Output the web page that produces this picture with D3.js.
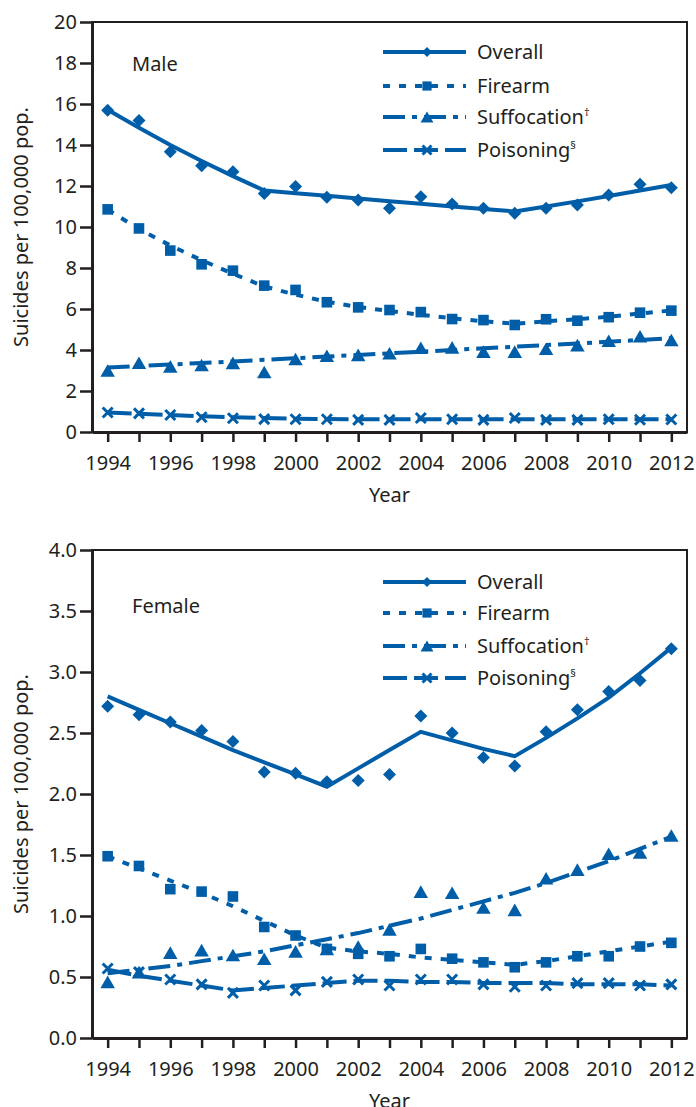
<!DOCTYPE html>
<html>
<head>
<meta charset="utf-8">
<script src="https://cdn.jsdelivr.net/npm/d3@7"></script>
<style>
  body { margin: 0; background: #fff; }
  text { font-family: "Noto Sans", sans-serif; fill: #231f20; }
</style>
</head>
<body>
<div id="app"></div>
<script>
// years on the x axis
const years = [1994, 1995, 1996, 1997, 1998, 1999, 2000, 2001, 2002, 2003,
               2004, 2005, 2006, 2007, 2008, 2009, 2010, 2011, 2012];
const seriesNames = ["Overall", "Firearm", "Suffocation", "Poisoning"];
const seriesSup = ["", "", "\u2020", "\u00a7"];

// male, observed rates
const maleOverall     = [15.7, 15.19, 13.67, 12.99, 12.7, 11.64, 11.97, 11.45, 11.32, 10.91, 11.48, 11.12, 10.91, 10.67, 10.91, 11.07, 11.56, 12.08, 11.92];
const maleFirearm     = [10.86, 9.93, 8.85, 8.18, 7.87, 7.14, 6.93, 6.33, 6.08, 5.95, 5.85, 5.51, 5.46, 5.22, 5.5, 5.43, 5.6, 5.82, 5.92];
const maleSuffocation = [3.0, 3.38, 3.2, 3.27, 3.37, 2.93, 3.56, 3.72, 3.76, 3.84, 4.11, 4.13, 3.92, 3.92, 4.06, 4.24, 4.45, 4.67, 4.49];
const malePoisoning   = [0.95, 0.91, 0.83, 0.72, 0.67, 0.63, 0.62, 0.62, 0.59, 0.59, 0.68, 0.62, 0.59, 0.68, 0.59, 0.59, 0.62, 0.6, 0.61];
// male, fitted trends
const maleOverallTrend     = [15.72, 14.84, 14.0, 13.22, 12.48, 11.78, 11.65, 11.52, 11.39, 11.26, 11.13, 11.0, 10.88, 10.76, 11.0, 11.25, 11.51, 11.78, 12.05];
const maleFirearmTrend     = [10.85, 9.9, 9.1, 8.38, 7.72, 7.1, 6.7, 6.35, 6.1, 5.9, 5.72, 5.55, 5.4, 5.28, 5.4, 5.5, 5.62, 5.78, 5.93];
const maleSuffocationTrend = [3.15, 3.22, 3.29, 3.37, 3.44, 3.52, 3.6, 3.68, 3.76, 3.84, 3.92, 4.0, 4.08, 4.16, 4.24, 4.32, 4.4, 4.49, 4.58];
const malePoisoningTrend   = [0.95, 0.89, 0.83, 0.77, 0.72, 0.68, 0.65, 0.63, 0.62, 0.62, 0.62, 0.62, 0.62, 0.62, 0.62, 0.62, 0.62, 0.62, 0.62];

// female, observed rates
const femaleOverall     = [2.72, 2.65, 2.59, 2.52, 2.43, 2.18, 2.17, 2.1, 2.11, 2.16, 2.64, 2.5, 2.3, 2.23, 2.51, 2.69, 2.84, 2.93, 3.19];
const femaleFirearm     = [1.49, 1.41, 1.22, 1.2, 1.16, 0.91, 0.84, 0.73, 0.69, 0.67, 0.73, 0.65, 0.62, 0.58, 0.62, 0.67, 0.67, 0.75, 0.78];
const femaleSuffocation = [0.46, 0.54, 0.7, 0.72, 0.68, 0.65, 0.71, 0.73, 0.75, 0.89, 1.2, 1.19, 1.07, 1.05, 1.31, 1.38, 1.51, 1.52, 1.66];
const femalePoisoning   = [0.57, 0.54, 0.48, 0.44, 0.37, 0.43, 0.39, 0.46, 0.48, 0.43, 0.48, 0.48, 0.44, 0.42, 0.43, 0.45, 0.45, 0.43, 0.44];
// female, fitted trends
const femaleOverallTrend     = [2.8, 2.69, 2.58, 2.47, 2.36, 2.26, 2.16, 2.06, 2.21, 2.36, 2.51, 2.44, 2.37, 2.31, 2.46, 2.62, 2.79, 2.99, 3.2];
const femaleFirearmTrend     = [1.49, 1.39, 1.29, 1.19, 1.08, 0.96, 0.84, 0.74, 0.71, 0.69, 0.66, 0.64, 0.62, 0.6, 0.63, 0.67, 0.71, 0.75, 0.79];
const femaleSuffocationTrend = [0.53, 0.56, 0.59, 0.63, 0.67, 0.71, 0.76, 0.81, 0.86, 0.92, 0.98, 1.05, 1.12, 1.19, 1.27, 1.36, 1.45, 1.55, 1.65];
const femalePoisoningTrend   = [0.56, 0.51, 0.47, 0.43, 0.39, 0.41, 0.43, 0.45, 0.47, 0.47, 0.46, 0.46, 0.45, 0.45, 0.45, 0.44, 0.44, 0.44, 0.43];

const maleTicks   = [0, 2, 4, 6, 8, 10, 12, 14, 16, 18, 20];
const femaleTicks = [0, 0.5, 1.0, 1.5, 2.0, 2.5, 3.0, 3.5, 4.0];

const blue = "#005ea8";
const ink = "#231f20";
const dashes = [null, "7,9", "22,7,5,7", "24,7"];
const markerKinds = ["diamond", "square", "triangle", "cross"];

const svg = d3.select("#app").append("svg")
    .attr("width", 696)
    .attr("height", 1107);

const x = d3.scaleLinear().domain([1993.5, 2012.5]).range([92, 687]);

function markerPath(kind, s) {
    // s = half size
    if (kind === "diamond") return `M0,${-s}L${s},0L0,${s}L${-s},0Z`;
    if (kind === "square") return `M${-s},${-s}H${s}V${s}H${-s}Z`;
    if (kind === "triangle") return `M0,${-s}L${s * 1.15},${s}L${-s * 1.15},${s}Z`;
    return `M${-s},${-s}L${s},${s}M${-s},${s}L${s},${-s}`;
}
const markerSize = { diamond: 6.5, square: 5.3, triangle: 6.3, cross: 5 };
const legendSize = { diamond: 5, square: 4.6, triangle: 5.6, cross: 4.5 };

function drawMarker(sel, kind, size) {
    sel.attr("d", markerPath(kind, size))
        .attr("fill", kind === "cross" ? "none" : blue)
        .attr("stroke", kind === "cross" ? blue : "none")
        .attr("stroke-width", 3);
}

function drawPanel(p) {
    const y = d3.scaleLinear().domain(p.domain).range([p.bottom, p.top]);
    const g = svg.append("g");

    // frame
    g.append("rect")
        .attr("x", 92).attr("y", p.top)
        .attr("width", 687 - 92).attr("height", p.bottom - p.top)
        .attr("fill", "none").attr("stroke", ink).attr("stroke-width", 2);

    // axes
    const yAxis = g.append("g")
        .attr("transform", "translate(92,0)")
        .call(d3.axisLeft(y).tickValues(p.ticks).tickFormat(p.fmt)
            .tickSize(12).tickPadding(3).tickSizeOuter(0));
    const xAxis = g.append("g")
        .attr("transform", `translate(0,${p.bottom})`)
        .call(d3.axisBottom(x).tickValues(years)
            .tickFormat(d => d % 2 === 0 ? d : "")
            .tickSize(10).tickPadding(14).tickSizeOuter(0));
    for (const ax of [xAxis, yAxis]) {
        ax.select(".domain").attr("stroke", ink).attr("stroke-width", 3);
        ax.selectAll(".tick line").attr("stroke", ink).attr("stroke-width", 2.5);
        ax.selectAll(".tick text").attr("fill", ink)
            .style("font-size", "20px").style("font-family", '"Noto Sans", sans-serif');
    }

    // axis titles
    g.append("text")
        .attr("x", 389.5).attr("y", p.bottom + 70)
        .attr("text-anchor", "middle")
        .style("font-size", "20px")
        .text("Year");
    g.append("text")
        .attr("transform", `translate(28,${(p.top + p.bottom) / 2}) rotate(-90)`)
        .attr("text-anchor", "middle")
        .style("font-size", "20px")
        .text("Suicides per 100,000 pop.");

    // panel label
    g.append("text")
        .attr("x", 132).attr("y", p.labelY)
        .style("font-size", "20px")
        .text(p.label);

    const line = d3.line().x((d, i) => x(years[i])).y(d => y(d));

    p.trends.forEach((t, k) => {
        g.append("path")
            .attr("d", line(t))
            .attr("fill", "none")
            .attr("stroke", blue)
            .attr("stroke-width", 4)
            .attr("stroke-dasharray", dashes[k]);
    });
    p.observed.forEach((s, k) => {
        g.append("g").selectAll("path")
            .data(s)
            .join("path")
            .attr("transform", (d, i) => `translate(${x(years[i])},${y(d)})`)
            .call(drawMarker, markerKinds[k], markerSize[markerKinds[k]]);
    });

    // legend
    const lg = g.append("g");
    seriesNames.forEach((name, k) => {
        const ly = p.top + p.legendRows[k];
        lg.append("line")
            .attr("x1", 383).attr("x2", 466)
            .attr("y1", ly).attr("y2", ly)
            .attr("stroke", blue).attr("stroke-width", 4)
            .attr("stroke-dasharray", dashes[k]);
        lg.append("path")
            .attr("transform", `translate(427,${ly})`)
            .call(drawMarker, markerKinds[k], legendSize[markerKinds[k]]);
        const t = lg.append("text")
            .attr("x", 477).attr("y", ly + 7)
            .style("font-size", "20px")
            .text(name);
        if (seriesSup[k]) {
            t.append("tspan")
                .attr("dy", -8)
                .style("font-size", "11px")
                .text(seriesSup[k]);
        }
    });
}

drawPanel({
    label: "Male", labelY: 71,
    top: 22, bottom: 432, domain: [0, 20], ticks: maleTicks, fmt: d3.format("d"),
    legendRows: [30, 64, 95, 128],
    observed: [maleOverall, maleFirearm, maleSuffocation, malePoisoning],
    trends: [maleOverallTrend, maleFirearmTrend, maleSuffocationTrend, malePoisoningTrend]
});

drawPanel({
    label: "Female", labelY: 613,
    top: 550, bottom: 1038, domain: [0, 4], ticks: femaleTicks, fmt: d3.format(".1f"),
    legendRows: [32, 63, 96, 128],
    observed: [femaleOverall, femaleFirearm, femaleSuffocation, femalePoisoning],
    trends: [femaleOverallTrend, femaleFirearmTrend, femaleSuffocationTrend, femalePoisoningTrend]
});
</script>
</body>
</html>
